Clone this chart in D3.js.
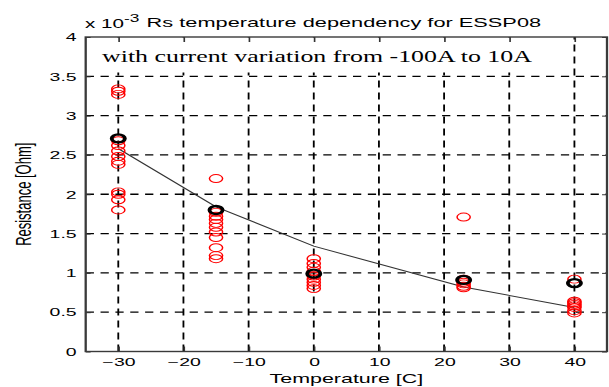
<!DOCTYPE html>
<html>
<head>
<meta charset="utf-8">
<script src="https://cdn.jsdelivr.net/npm/d3@7"></script>
<style>
  body { margin: 0; background: #fff; }
</style>
</head>
<body>
<svg id="chart" width="609" height="387"></svg>
<script>
// ---------- DATA (Rs in units of 1e-3 Ohm) ----------
const temps = [-30, -15, 0, 23, 40];
const redAtM30 = [3.34, 3.31, 3.27, 2.68, 2.62, 2.55, 2.48, 2.42, 2.38, 2.03, 2.00, 1.93, 1.80];
const redAtM15 = [2.20, 1.77, 1.72, 1.68, 1.63, 1.58, 1.52, 1.45, 1.32, 1.22, 1.18];
const redAt0 = [1.18, 1.12, 1.07, 1.02, 0.96, 0.92, 0.88, 0.84, 0.80];
const redAt23 = [1.71, 0.92, 0.88, 0.86, 0.83, 0.81];
const redAt40 = [0.92, 0.64, 0.62, 0.60, 0.58, 0.56, 0.52, 0.49];
const meanRs = [2.71, 1.80, 0.99, 0.91, 0.87];
const fitRs = [2.58, 1.84, 1.34, 0.82, 0.56];
const xTicks = [-30, -20, -10, 0, 10, 20, 30, 40];
const yTicks = [0, 0.5, 1, 1.5, 2, 2.5, 3, 3.5, 4];

const svg = d3.select("#chart");
const width = +svg.attr("width");

// the whole figure is horizontally stretched
const sx = 1.65;
const g = svg.append("g").attr("transform", `scale(${sx},1)`);

const mLeft = 85.7 / sx, mRight = 607 / sx, mTop = 37, mBottom = 351.5;

const x = d3.scaleLinear().domain([-35, 45]).range([mLeft, mRight]);
const y = d3.scaleLinear().domain([0, 4]).range([mBottom, mTop]);

const redSets = [redAtM30, redAtM15, redAt0, redAt23, redAt40];
const redPts = redSets.flatMap((vals, i) => vals.map(v => ({ t: temps[i], v })));

// ---------- GRID ----------
g.append("g")
  .selectAll("line")
  .data(xTicks)
  .join("line")
  .attr("x1", d => x(d)).attr("x2", d => x(d))
  .attr("y1", y(0)).attr("y2", y(4))
  .attr("stroke", "#000")
  .attr("stroke-width", 1.1)
  .attr("stroke-dasharray", "7,5");

g.append("g")
  .selectAll("line")
  .data(yTicks.filter(d => d > 0 && d < 4))
  .join("line")
  .attr("x1", x(-35)).attr("x2", x(45))
  .attr("y1", d => y(d)).attr("y2", d => y(d))
  .attr("stroke", "#000")
  .attr("stroke-width", 1.3)
  .attr("stroke-dasharray", "5,4");

// ---------- ANNOTATION (white background) ----------
g.append("rect")
  .attr("x", mLeft + 0.5)
  .attr("y", mTop + 0.5)
  .attr("width", 562 / sx - mLeft)
  .attr("height", 35)
  .attr("fill", "#fff");

g.append("text")
  .attr("x", 102 / sx)
  .attr("y", 62)
  .style("font-family", "'Liberation Serif', 'Times New Roman', serif")
  .style("font-size", "15.7px")
  .attr("fill", "#000")
  .text("with current variation from -100A to 10A");

// ---------- FIT LINE ----------
const line = d3.line()
  .x((d, i) => x(temps[i]))
  .y(d => y(d));

g.append("path")
  .datum(fitRs)
  .attr("d", line)
  .attr("fill", "none")
  .attr("stroke", "#333")
  .attr("stroke-width", 1);

// ---------- MARKERS ----------
g.append("g")
  .selectAll("circle")
  .data(redPts)
  .join("circle")
  .attr("cx", d => x(d.t))
  .attr("cy", d => y(d.v))
  .attr("r", 4)
  .attr("fill", "none")
  .attr("stroke", "#ff0000")
  .attr("stroke-width", 0.9);

g.append("g")
  .selectAll("circle")
  .data(meanRs)
  .join("circle")
  .attr("cx", (d, i) => x(temps[i]))
  .attr("cy", d => y(d))
  .attr("r", 4)
  .attr("fill", "none")
  .attr("stroke", "#000")
  .attr("stroke-width", 2.3);

// ---------- AXES ----------
const font = "'Liberation Sans', Arial, sans-serif";

const xAxis = g.append("g")
  .attr("transform", `translate(0,${mBottom})`)
  .call(d3.axisBottom(x).tickValues(xTicks).tickSizeInner(-5).tickSizeOuter(0).tickPadding(6));
const yAxis = g.append("g")
  .attr("transform", `translate(${mLeft},0)`)
  .call(d3.axisLeft(y).tickValues(yTicks).tickSizeInner(-3).tickSizeOuter(0).tickPadding(5.5)
    .tickFormat(d3.format("")));
const xTop = g.append("g")
  .attr("transform", `translate(0,${mTop})`)
  .call(d3.axisTop(x).tickValues(xTicks).tickSizeInner(-5).tickSizeOuter(0).tickFormat(""));
const yRight = g.append("g")
  .attr("transform", `translate(${mRight},0)`)
  .call(d3.axisRight(y).tickValues(yTicks).tickSizeInner(-3).tickSizeOuter(0).tickFormat(""));

[xAxis, yAxis, xTop, yRight].forEach(a => {
  a.select(".domain").remove();
  a.selectAll(".tick line").attr("stroke", "#333").attr("stroke-width", 1);
  a.selectAll("text")
    .style("font-family", font)
    .style("font-size", "11.8px")
    .attr("fill", "#000");
});

// axes box
g.append("rect")
  .attr("x", mLeft).attr("y", mTop)
  .attr("width", mRight - mLeft).attr("height", mBottom - mTop)
  .attr("fill", "none")
  .attr("stroke", "#3a3a3a")
  .attr("stroke-width", 1.4);

// ---------- LABELS ----------
g.append("text")
  .attr("x", (mLeft + mRight) / 2)
  .attr("y", 383)
  .attr("text-anchor", "middle")
  .style("font-family", font)
  .style("font-size", "13px")
  .text("Temperature [C]");

g.append("text")
  .attr("transform", `translate(${23 / sx},${(mTop + mBottom) / 2}) rotate(-90)`)
  .attr("text-anchor", "middle")
  .attr("dy", "0.35em")
  .style("font-family", font)
  .style("font-size", "13px")
  .text("Resistance [Ohm]");

g.append("text")
  .attr("x", (mLeft + mRight) / 2 - 1.5)
  .attr("y", 27)
  .attr("text-anchor", "middle")
  .style("font-family", font)
  .style("font-size", "13.2px")
  .text("Rs temperature dependency for ESSP08");

const expo = g.append("text")
  .attr("x", 85 / sx)
  .attr("y", 28)
  .style("font-family", font)
  .style("font-size", "12.5px");
expo.append("tspan").text("x 10");
expo.append("tspan").attr("dy", -6).style("font-size", "10.5px").text("-3");
</script>
</body>
</html>
